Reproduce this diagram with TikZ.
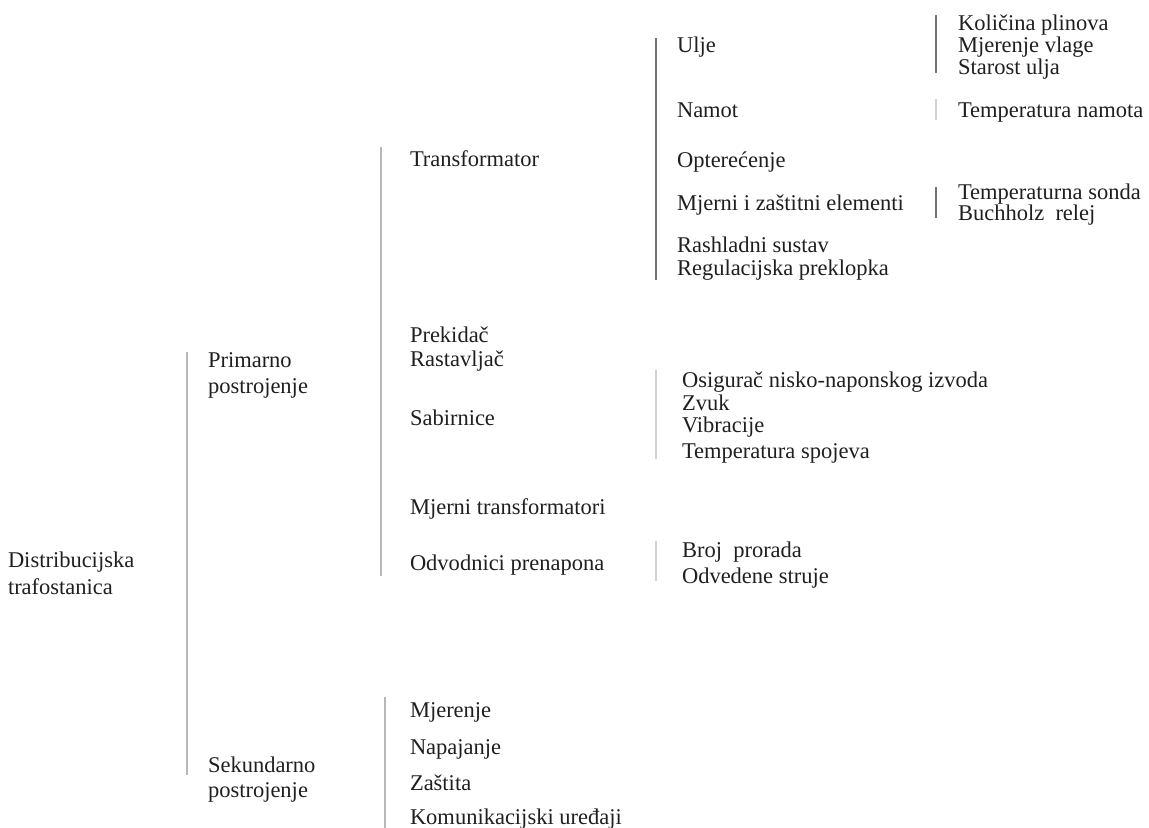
\documentclass[tikz,border=0pt]{standalone}
\usepackage{fontspec}
\setmainfont{Liberation Serif}
\begin{document}
\begin{tikzpicture}[x=1bp,y=-1bp,
  lbl/.style={anchor=base west,inner sep=0pt,outer sep=0pt,text=black!88,font=\fontsize{22.5bp}{22bp}\selectfont},
  brk/.style={draw=black!28,line width=1.3bp},
  brkd/.style={draw=black!55,line width=1.3bp},
  brkl/.style={draw=black!18,line width=1.3bp}]
\useasboundingbox (0,0) rectangle (1149,828);
% level 0
\node[lbl] (dt1) at (8,567) {Distribucijska};
\node[lbl] (dt2) at (8,594) {trafostanica};
% level 1
\node[lbl] (pp1) at (208,367) {Primarno};
\node[lbl] (pp2) at (208,393) {postrojenje};
\node[lbl] (sp1) at (208,772) {Sekundarno};
\node[lbl] (sp2) at (208,797) {postrojenje};
% level 2 primary
\node[lbl] (tr) at (410,166) {Transformator};
\node[lbl] (pr) at (410,342) {Prekidač};
\node[lbl] (ra) at (410,366) {Rastavljač};
\node[lbl] (sa) at (410,425) {Sabirnice};
\node[lbl] (mt) at (410,514) {Mjerni transformatori};
\node[lbl] (op) at (410,570) {Odvodnici prenapona};
% level 2 secondary
\node[lbl] (mj) at (410,717) {Mjerenje};
\node[lbl] (na) at (410,754) {Napajanje};
\node[lbl] (za) at (410,790) {Zaštita};
\node[lbl] (ku) at (410,824) {Komunikacijski uređaji};
% level 3 transformer
\node[lbl] (ul) at (677,52) {Ulje};
\node[lbl] (nm) at (677,117) {Namot};
\node[lbl] (ot) at (677,167) {Opterećenje};
\node[lbl] (me) at (677,210) {Mjerni i zaštitni elementi};
\node[lbl] (rs) at (677,252) {Rashladni sustav};
\node[lbl] (rp) at (677,275) {Regulacijska preklopka};
% level 3 sabirnice
\node[lbl] (os) at (682,387) {Osigurač nisko-naponskog izvoda};
\node[lbl] (zv) at (682,410) {Zvuk};
\node[lbl] (vi) at (682,432) {Vibracije};
\node[lbl] (ts) at (682,458) {Temperatura spojeva};
% level 3 odvodnici
\node[lbl] (bp) at (682,557) {Broj\ \ prorada};
\node[lbl] (os2) at (682,583) {Odvedene struje};
% level 4
\node[lbl] (kp) at (958,30) {Količina plinova};
\node[lbl] (mv) at (958,52) {Mjerenje vlage};
\node[lbl] (su) at (958,74) {Starost ulja};
\node[lbl] (tn) at (958,117) {Temperatura namota};
\node[lbl] (tsd) at (958,199) {Temperaturna sonda};
\node[lbl] (br) at (958,220) {Buchholz\ \ relej};
% brackets
\coordinate (b1t) at (187,352); \coordinate (b1b) at (187,775);
\coordinate (b2t) at (381,147); \coordinate (b2b) at (381,576);
\coordinate (b3t) at (656,38);  \coordinate (b3b) at (656,280);
\coordinate (b4t) at (936,15);  \coordinate (b4b) at (936,73);
\coordinate (b5t) at (936,99);  \coordinate (b5b) at (936,120);
\coordinate (b6t) at (936,187); \coordinate (b6b) at (936,218);
\coordinate (b7t) at (656,370); \coordinate (b7b) at (656,459);
\coordinate (b8t) at (656,541); \coordinate (b8b) at (656,581);
\coordinate (b9t) at (385,697); \coordinate (b9b) at (385,828);
\draw[brk] (b1t) -- (b1b);
\draw[brk] (b2t) -- (b2b);
\draw[brkd] (b3t) -- (b3b);
\draw[brkd] (b4t) -- (b4b);
\draw[brkl] (b5t) -- (b5b);
\draw[brkd] (b6t) -- (b6b);
\draw[brkl] (b7t) -- (b7b);
\draw[brkl] (b8t) -- (b8b);
\draw[brk] (b9t) -- (b9b);
\end{tikzpicture}
\end{document}
